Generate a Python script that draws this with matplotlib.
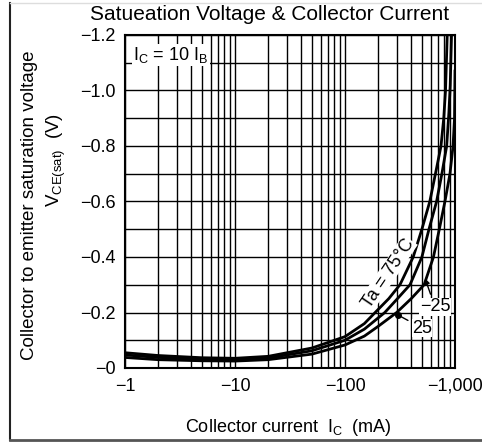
import matplotlib
matplotlib.use("Agg")
import matplotlib.pyplot as plt
from matplotlib.lines import Line2D
from matplotlib.ticker import FixedLocator, FixedFormatter, NullFormatter
import numpy as np

plt.rcParams['font.family'] = ['Liberation Sans', 'DejaVu Sans']

# Data (collector current in mA, saturation voltage in V; both negative)
ic_75 = [-1, -2, -5, -10, -20, -50, -100, -150, -188, -250, -316, -417, -500, -590, -680, -746, -790, -820, -850]
v_75 = [-0.055, -0.045, -0.037, -0.035, -0.042, -0.072, -0.113, -0.16, -0.2, -0.25, -0.3, -0.4, -0.5, -0.6, -0.72, -0.8, -0.9, -1.0, -1.2]

ic_25 = [-1, -2, -5, -10, -20, -50, -100, -150, -230, -300, -390, -500, -580, -680, -760, -840, -880, -905, -930]
v_25 = [-0.047, -0.038, -0.032, -0.030, -0.036, -0.062, -0.10, -0.14, -0.2, -0.25, -0.3, -0.4, -0.5, -0.6, -0.7, -0.8, -0.92, -1.02, -1.2]

ic_m25 = [-1, -2, -5, -10, -20, -50, -100, -150, -200, -295, -400, -524, -637, -720, -810, -900, -960, -990, -1000]
v_m25 = [-0.038, -0.030, -0.026, -0.025, -0.030, -0.050, -0.083, -0.115, -0.15, -0.2, -0.25, -0.3, -0.4, -0.5, -0.6, -0.7, -0.8, -0.9, -1.07]

x_ticks = [-1, -10, -100, -1000]
x_ticklabels = ["\u22121", "\u221210", "\u2212100", "\u22121,000"]
y_ticks = [0, -0.2, -0.4, -0.6, -0.8, -1.0, -1.2]
y_ticklabels = ["\u22120", "\u22120.2", "\u22120.4", "\u22120.6", "\u22120.8", "\u22121.0", "\u22121.2"]

fig = plt.figure(figsize=(4.82, 4.43), dpi=100)
ax = fig.add_axes([125/482, 1-368/443, 330/482, 333/443])

for ic, v in [(ic_75, v_75), (ic_25, v_25), (ic_m25, v_m25)]:
    ax.plot(np.negative(ic), v, color='black', lw=2.0, zorder=3)

ax.set_xscale('log')
ax.set_xlim(1, 1000)
ax.set_ylim(0, -1.2)

ax.xaxis.set_major_locator(FixedLocator(np.negative(x_ticks)))
ax.xaxis.set_major_formatter(FixedFormatter(x_ticklabels))
minor_x = [m * d for d in (1, 10, 100) for m in range(2, 10)]
ax.xaxis.set_minor_locator(FixedLocator(minor_x))
ax.xaxis.set_minor_formatter(NullFormatter())

ax.yaxis.set_major_locator(FixedLocator(y_ticks))
ax.yaxis.set_major_formatter(FixedFormatter(y_ticklabels))
ax.yaxis.set_minor_locator(FixedLocator([-0.1, -0.3, -0.5, -0.7, -0.9, -1.1]))

ax.grid(True, which='both', color='black', lw=1.0, zorder=1)
ax.tick_params(which='both', length=0, labelsize=13, pad=7, colors='black')
for s in ax.spines.values():
    s.set_linewidth(1.5)
    s.set_color('black')

# Labels
fig.text(270/482, 1-15/443, "Satueation Voltage & Collector Current", ha='center', va='center', fontsize=15)
fig.text(288/482, 1-428/443, r"Collector current  I$_\mathregular{C}$  (mA)", ha='center', va='center', fontsize=13)
fig.text(30/482, 1-205/443, "Collector to emitter saturation voltage", ha='center', va='center', rotation=90, fontsize=13.5)
fig.text(56/482, 1-160/443, r"V$_\mathregular{CE(sat)}$  (V)", ha='center', va='center', rotation=90, fontsize=13.5)

ax.text(0.025, 0.94, r"I$_\mathregular{C}$ = 10 I$_\mathregular{B}$", transform=ax.transAxes, ha='left', va='center',
        fontsize=13, zorder=4, bbox=dict(facecolor='white', edgecolor='none', pad=1))

ax.text(246, -0.342, "Ta = 75\u00b0C", rotation=56, ha='center', va='center', fontsize=13, zorder=4,
        bbox=dict(facecolor='white', edgecolor='none', pad=0.3))
ax.annotate("\u221225", xy=(534, -0.323), xytext=(658, -0.22), ha='center', va='center', fontsize=13, zorder=4,
            bbox=dict(facecolor='white', edgecolor='none', pad=0.3),
            arrowprops=dict(arrowstyle='-|>', color='black', lw=1.0, mutation_scale=8, shrinkA=3, shrinkB=0))
ax.annotate("25", xy=(303, -0.191), xytext=(501, -0.144), ha='center', va='center', fontsize=13, zorder=4,
            bbox=dict(facecolor='white', edgecolor='none', pad=0.3),
            arrowprops=dict(arrowstyle='-', color='black', lw=1.0, shrinkA=3, shrinkB=0))
ax.plot([303], [-0.191], 'o', color='black', ms=4, zorder=5)

# outer frame
fig.add_artist(Line2D([10/482, 10/482], [1-3/443, 1-440/443], color='#222222', lw=1.5, transform=fig.transFigure))
fig.add_artist(Line2D([10/482, 1.0], [1-440/443, 1-440/443], color='#555555', lw=2, transform=fig.transFigure))
fig.add_artist(Line2D([10/482, 1.0], [1-3/443, 1-3/443], color='#dddddd', lw=1, transform=fig.transFigure))

fig.savefig("out.png", dpi=100)
